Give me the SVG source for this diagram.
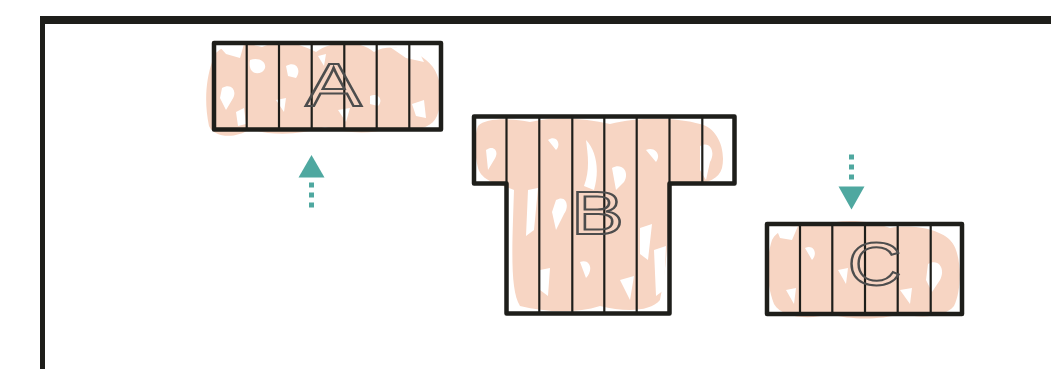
<svg xmlns="http://www.w3.org/2000/svg" width="1051" height="369" viewBox="0 0 1051 369">
<style>
.frame{fill:#1e1e1a}
.box{fill:none;stroke:#1e1e1a;stroke-width:4.5;stroke-linejoin:round}
.div{stroke:#1e1e1a;stroke-width:2.2}
.pink{fill:#f7d5c3}
.gap{fill:#ffffff}
.lbl{font-family:"Liberation Sans",Arial,sans-serif;font-size:61px;fill:none;stroke:#4d4d4d;stroke-width:2;text-anchor:middle}
.teal{fill:#4fa8a0}
.dash{stroke:#4fa8a0;stroke-width:5;stroke-dasharray:5 5}
</style>
<rect width="1051" height="369" fill="#ffffff"/>
<g id="frame">
<rect class="frame" x="40" y="16" width="1011" height="8"/>
<rect class="frame" x="40" y="16" width="5" height="353"/>
</g>
<g id="node-A">
<path class="pink" d="M212,62 C214,46 238,40 262,47 C282,38 300,44 316,52 C332,40 360,40 374,52 C388,43 412,48 426,60 C442,72 444,98 437,116 C431,130 410,133 390,128 C370,135 345,133 325,127 C300,135 272,136 250,129 C236,139 214,138 209,126 C204,102 206,80 212,62 Z"/>
<path class="gap" d="M218,45 L244,44 L240,58 L226,54 Z M250,60 C262,56 270,66 262,72 C254,76 248,70 250,60 Z M222,88 C232,82 238,92 232,100 L226,110 L220,98 Z M286,66 C296,60 302,70 296,78 L288,76 Z M390,47 L418,50 L424,62 L406,58 Z M370,96 C378,92 384,100 378,106 L370,104 Z M276,100 L286,98 L284,112 Z M412,104 L424,100 L426,118 L416,116 Z M338,110 L350,108 L346,122 Z M236,112 L244,108 L246,124 L238,126 Z M318,56 L326,54 L324,66 Z"/>
<rect class="box" x="214" y="43" width="227" height="86.5"/>
<g class="div">
<line x1="246.7" y1="43" x2="246.7" y2="129.5"/>
<line x1="279" y1="43" x2="279" y2="129.5"/>
<line x1="311.7" y1="43" x2="311.7" y2="129.5"/>
<line x1="344.3" y1="43" x2="344.3" y2="129.5"/>
<line x1="376.7" y1="43" x2="376.7" y2="129.5"/>
<line x1="409.3" y1="43" x2="409.3" y2="129.5"/>
</g>
<text class="lbl" transform="translate(333.5,106) scale(1.38,1)">A</text>
</g>
<g id="node-B">
<path class="pink" d="M478,126 C486,118 510,118 530,122 C555,116 585,118 610,124 C640,116 680,118 700,124 C718,128 726,150 722,168 C718,182 700,186 680,182 L668,188 C670,230 666,270 660,300 C650,312 625,312 600,306 C575,314 545,312 520,306 C510,290 512,250 514,190 C500,184 482,182 478,168 C474,152 474,136 478,126 Z"/>
<path class="gap" d="M486,150 C494,144 500,152 494,160 L488,170 Z M548,140 C556,134 562,144 556,150 Z M586,140 C596,150 600,170 594,190 L584,186 C590,170 588,156 586,140 Z M528,190 L538,188 L534,230 L526,236 Z M556,200 C566,194 570,206 564,214 L556,230 L552,212 Z M612,168 C622,162 630,172 624,182 L616,190 Z M646,150 C654,146 662,154 656,162 Z M700,146 C710,140 716,152 710,162 L706,180 L700,170 Z M640,228 L652,224 L648,260 L640,254 Z M580,262 C590,258 594,270 586,278 Z M620,280 L634,276 L630,300 Z M540,270 L550,268 L548,296 L540,290 Z M654,250 L666,246 L664,290 L656,296 Z"/>
<path class="box" d="M474,116.5 H734.5 V183.5 H669.5 V313.5 H506.5 V183.5 H474 Z"/>
<g class="div">
<line x1="506.5" y1="116.5" x2="506.5" y2="183.5"/>
<line x1="669.5" y1="116.5" x2="669.5" y2="183.5"/>
<line x1="702.3" y1="116.5" x2="702.3" y2="183.5"/>
<line x1="539.3" y1="116.5" x2="539.3" y2="313.5"/>
<line x1="572.3" y1="116.5" x2="572.3" y2="313.5"/>
<line x1="604.3" y1="116.5" x2="604.3" y2="313.5"/>
<line x1="636.7" y1="116.5" x2="636.7" y2="313.5"/>
</g>
<text class="lbl" transform="translate(597.5,234) scale(1.3,1)">B</text>
</g>
<g id="node-C">
<path class="pink" d="M772,240 C778,228 800,222 820,226 C840,218 870,220 890,228 C910,224 940,228 952,242 C962,256 962,290 954,306 C944,318 920,318 900,314 C880,320 850,320 830,314 C810,320 782,318 774,304 C766,284 766,258 772,240 Z"/>
<path class="gap" d="M776,228 L798,226 L792,240 L780,238 Z M805,248 C814,244 818,254 812,260 Z M838,270 L848,268 L846,284 Z M928,264 C938,258 946,268 940,280 L932,292 L926,280 Z M900,290 L912,288 L910,304 Z M944,232 L960,230 L958,250 Z M786,290 L796,288 L794,304 Z"/>
<rect class="box" x="767" y="224" width="195" height="90"/>
<g class="div">
<line x1="800" y1="224" x2="800" y2="314"/>
<line x1="832.3" y1="224" x2="832.3" y2="314"/>
<line x1="865" y1="224" x2="865" y2="314"/>
<line x1="897.7" y1="224" x2="897.7" y2="314"/>
<line x1="930.7" y1="224" x2="930.7" y2="314"/>
</g>
<text class="lbl" transform="translate(874.5,285) scale(1.22,1)">C</text>
</g>
<g id="connectors">
<line class="dash" x1="311.5" y1="182.5" x2="311.5" y2="210"/>
<path class="teal" d="M311.5,155 L324.5,177.5 L298.5,177.5 Z"/>
<line class="dash" x1="851.5" y1="154.5" x2="851.5" y2="181"/>
<path class="teal" d="M851.5,209.5 L838.5,186.5 L864.5,186.5 Z"/>
</g>
</svg>
